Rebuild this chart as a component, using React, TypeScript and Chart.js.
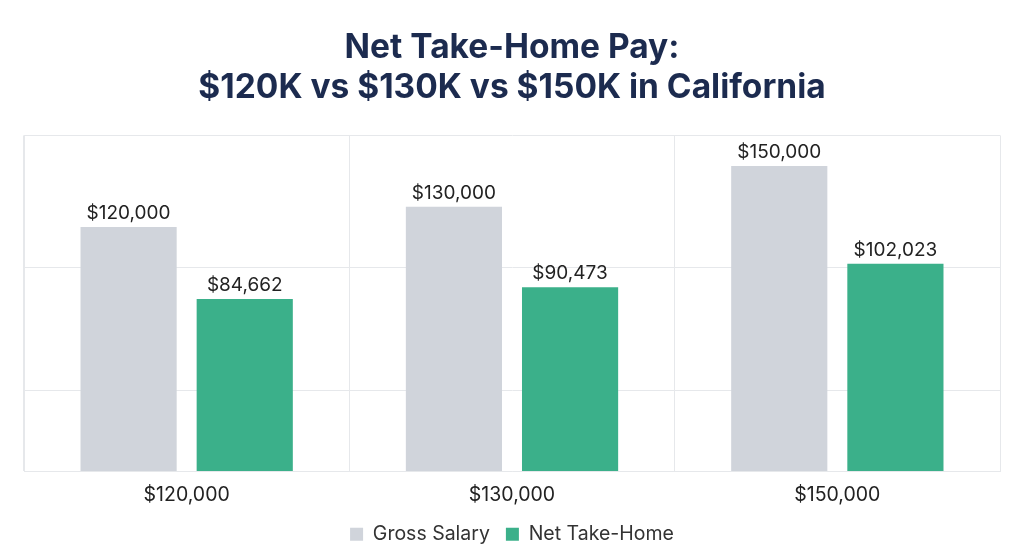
import React, { useEffect, useRef } from "react";
import { Chart, registerables } from "chart.js";

Chart.register(...registerables);

const categories = ["$120,000", "$130,000", "$150,000"];
const grossSalary = [120000, 130000, 150000];
const netTakeHome = [84662, 90473, 102023];
const gridValues = [0, 40000, 100000, 165000];
const titleLines = ["Net Take-Home Pay:", "$120K vs $130K vs $150K in California"];

const GRAY = "#d0d4db";
const GREEN = "#3bb08a";
const GRID = "#e6e8eb";
const FONT = "Inter, 'Noto Sans', sans-serif";

const fmt = (v: number) => "$" + v.toLocaleString("en-US");

const valueLabels = {
  id: "valueLabels",
  afterDatasetsDraw(chart: any) {
    const ctx = chart.ctx;
    ctx.save();
    ctx.font = "19px " + FONT;
    ctx.fillStyle = "#222222";
    ctx.textAlign = "center";
    ctx.textBaseline = "alphabetic";
    chart.data.datasets.forEach((ds: any, di: number) => {
      const meta = chart.getDatasetMeta(di);
      meta.data.forEach((bar: any, i: number) => {
        ctx.fillText(fmt(ds.data[i]), bar.x, bar.y - 8);
      });
    });
    ctx.restore();
  },
};

export default function App() {
  const ref = useRef<HTMLCanvasElement | null>(null);
  useEffect(() => {
    if (!ref.current) return;
    const chart = new Chart(ref.current, {
      type: "bar",
      data: {
        labels: categories,
        datasets: [
          {
            label: "Gross Salary",
            data: grossSalary,
            backgroundColor: GRAY,
            categoryPercentage: 0.714,
            barPercentage: 0.828,
          },
          {
            label: "Net Take-Home",
            data: netTakeHome,
            backgroundColor: GREEN,
            categoryPercentage: 0.714,
            barPercentage: 0.828,
          },
        ],
      },
      options: {
        animation: false,
        responsive: false,
        maintainAspectRatio: false,
        layout: { padding: { left: 24, right: 24, top: 28, bottom: 5 } },
        plugins: {
          title: {
            display: true,
            text: titleLines,
            color: "#1c2b4f",
            font: { family: FONT, size: 33.5, weight: "bold", lineHeight: 1.2 },
            padding: { top: 0, bottom: 27 },
          },
          legend: {
            position: "bottom",
            labels: {
              color: "#333333",
              font: { family: FONT, size: 19.5 },
              boxWidth: 13,
              boxHeight: 13,
              padding: 16,
            },
          },
          tooltip: { enabled: false },
        },
        scales: {
          x: {
            afterFit: (scale: any) => {
              scale.height = 37;
            },
            grid: {
              display: true,
              drawTicks: false,
              color: (c: any) => (c.index === categories.length ? "transparent" : GRID),
            },
            border: { display: true, color: GRID },
            ticks: {
              color: "#222222",
              font: { family: FONT, size: 19.5 },
              padding: 12,
            },
          },
          y: {
            min: 0,
            max: 165000,
            afterBuildTicks: (scale: any) => {
              scale.ticks = gridValues.map((v) => ({ value: v }));
            },
            grid: { color: GRID, drawTicks: false },
            border: { display: true, color: GRID },
            ticks: { display: false },
          },
        },
      },
      plugins: [valueLabels],
    });
    return () => chart.destroy();
  }, []);
  return (
    <div style={{ position: "absolute", left: 0, top: 0, width: 1024, height: 559, background: "#ffffff" }}>
      <canvas ref={ref} width={1024} height={559} />
    </div>
  );
}
